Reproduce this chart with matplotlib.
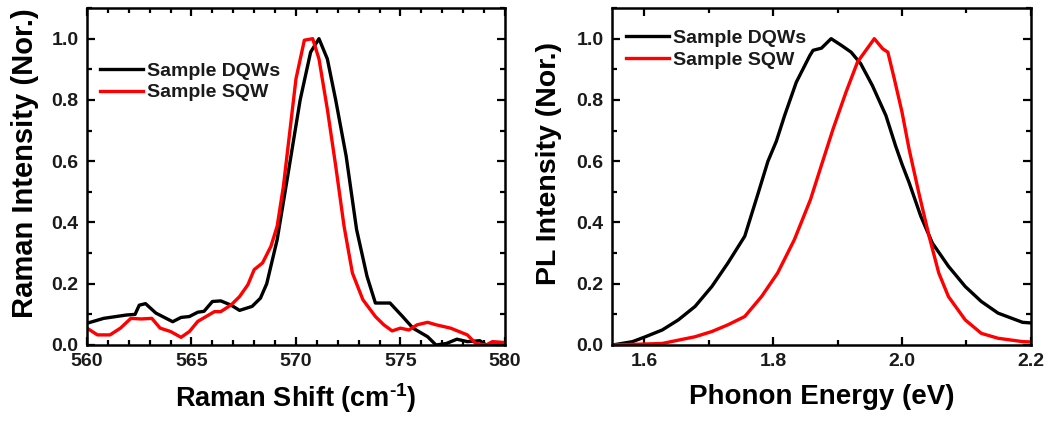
import matplotlib

matplotlib.use("Agg")
import matplotlib.pyplot as plt
from matplotlib.ticker import FormatStrFormatter, MultipleLocator

# Raman spectra (left panel)
raman_shift_dqw = [560.0, 560.8, 561.9, 562.3, 562.5, 562.8, 563.3, 564.1, 564.5, 564.9,
                   565.3, 565.6, 566.0, 566.4, 566.9, 567.3, 567.9, 568.3, 568.6, 569.1,
                   569.6, 570.2, 570.7, 571.1, 571.5, 571.9, 572.4, 572.9, 573.4, 573.8,
                   574.5, 575.1, 575.6, 576.3, 576.7, 577.2, 577.7, 578.2, 578.8, 579.1, 580.0]
raman_int_dqw = [0.071, 0.087, 0.098, 0.100, 0.130, 0.135, 0.104, 0.076, 0.090, 0.093,
                 0.107, 0.110, 0.142, 0.144, 0.130, 0.113, 0.126, 0.153, 0.200, 0.344,
                 0.550, 0.800, 0.956, 1.000, 0.934, 0.800, 0.617, 0.377, 0.224, 0.137,
                 0.137, 0.093, 0.055, 0.027, 0.000, 0.005, 0.019, 0.011, 0.014, 0.000, 0.000]

raman_shift_sqw = [560.0, 560.5, 561.1, 561.6, 562.1, 562.6, 563.1, 563.5, 564.0, 564.5,
                   564.9, 565.3, 565.7, 566.1, 566.4, 566.9, 567.3, 567.7, 568.0, 568.4,
                   568.8, 569.1, 569.4, 569.7, 570.0, 570.4, 570.8, 571.1, 571.5, 571.9,
                   572.3, 572.7, 573.2, 573.8, 574.2, 574.6, 575.0, 575.4, 575.8, 576.3,
                   576.7, 577.4, 577.8, 578.2, 578.6, 579.1, 579.4, 580.0]
raman_int_sqw = [0.055, 0.033, 0.033, 0.055, 0.087, 0.085, 0.087, 0.055, 0.044, 0.025,
                 0.044, 0.077, 0.093, 0.109, 0.109, 0.131, 0.158, 0.197, 0.246, 0.268,
                 0.322, 0.388, 0.519, 0.694, 0.869, 0.995, 1.000, 0.934, 0.770, 0.585,
                 0.388, 0.235, 0.148, 0.093, 0.066, 0.046, 0.055, 0.049, 0.066, 0.074,
                 0.066, 0.055, 0.044, 0.033, 0.005, 0.000, 0.011, 0.008]

# PL spectra (right panel)
pl_energy_dqw = [1.551, 1.582, 1.602, 1.628, 1.653, 1.679, 1.705, 1.730, 1.756, 1.776,
                 1.792, 1.805, 1.818, 1.836, 1.857, 1.862, 1.875, 1.890, 1.906, 1.921,
                 1.936, 1.954, 1.975, 1.990, 2.000, 2.011, 2.029, 2.047, 2.072, 2.098,
                 2.123, 2.149, 2.187, 2.200]
pl_int_dqw = [0.000, 0.011, 0.027, 0.049, 0.082, 0.126, 0.191, 0.268, 0.355, 0.490,
              0.600, 0.665, 0.750, 0.858, 0.945, 0.962, 0.969, 1.000, 0.978, 0.956,
              0.918, 0.847, 0.749, 0.650, 0.590, 0.530, 0.421, 0.333, 0.257, 0.191,
              0.142, 0.104, 0.074, 0.072]

pl_energy_sqw = [1.551, 1.628, 1.679, 1.705, 1.730, 1.756, 1.782, 1.807, 1.833, 1.858,
                 1.873, 1.893, 1.913, 1.931, 1.944, 1.957, 1.970, 1.978, 1.988, 2.000,
                 2.011, 2.026, 2.042, 2.057, 2.072, 2.098, 2.123, 2.149, 2.187, 2.200]
pl_int_sqw = [0.000, 0.005, 0.027, 0.044, 0.066, 0.093, 0.158, 0.235, 0.344, 0.475,
              0.574, 0.705, 0.825, 0.924, 0.962, 1.000, 0.967, 0.956, 0.869, 0.760,
              0.639, 0.497, 0.355, 0.235, 0.158, 0.082, 0.038, 0.022, 0.011, 0.010]

labels = ["Sample DQWs", "Sample SQW"]

plt.rcParams["font.family"] = ["Liberation Sans", "DejaVu Sans"]
plt.rcParams["font.weight"] = "bold"
plt.rcParams["axes.labelweight"] = "bold"
plt.rcParams["mathtext.fontset"] = "custom"
plt.rcParams["mathtext.rm"] = "Liberation Sans:bold"
plt.rcParams["mathtext.bf"] = "Liberation Sans:bold"
plt.rcParams["text.color"] = "#1a1a1a"
plt.rcParams["xtick.labelcolor"] = "#1a1a1a"
plt.rcParams["ytick.labelcolor"] = "#1a1a1a"

fig = plt.figure(figsize=(10.52, 4.23), dpi=100)
ax1 = fig.add_axes([0.0827, 0.1844, 0.3973, 0.7966])
ax2 = fig.add_axes([0.5817, 0.1844, 0.3983, 0.7966])


def style_axes(ax):
    for s in ax.spines.values():
        s.set_linewidth(1.8)
    ax.tick_params(which="both", direction="in", top=True, right=True,
                   width=1.6, labelsize=14, pad=6)
    ax.tick_params(which="major", length=6)
    ax.tick_params(which="minor", length=3.5)
    ax.set_ylim(0, 1.1)
    ax.yaxis.set_major_locator(MultipleLocator(0.2))
    ax.yaxis.set_minor_locator(MultipleLocator(0.1))
    ax.yaxis.set_major_formatter(FormatStrFormatter("%.1f"))


def add_legend(ax, x0, y0):
    ax.legend(loc="upper left", bbox_to_anchor=(x0, y0), frameon=False, fontsize=14,
              handlelength=2.2, handletextpad=0.2, labelspacing=0.22,
              borderaxespad=0, borderpad=0)


ax1.plot(raman_shift_dqw, raman_int_dqw, color="black", lw=2.4, label=labels[0])
ax1.plot(raman_shift_sqw, raman_int_sqw, color="#ff0000", lw=2.4, label=labels[1])
style_axes(ax1)
ax1.set_xlim(560, 580)
ax1.xaxis.set_major_locator(MultipleLocator(5))
ax1.xaxis.set_minor_locator(MultipleLocator(1))
ax1.set_xlabel("Raman Shift (cm$^{\\text{-1}}$)", fontsize=19.5, labelpad=8)
ax1.set_ylabel("Raman Intensity (Nor.)", fontsize=21)
ax1.yaxis.set_label_coords(-0.115, 0.54)
add_legend(ax1, 0.031, 0.84)

ax2.plot(pl_energy_dqw, pl_int_dqw, color="black", lw=2.4, label=labels[0])
ax2.plot(pl_energy_sqw, pl_int_sqw, color="#ff0000", lw=2.4, label=labels[1])
style_axes(ax2)
ax2.set_xlim(1.55, 2.2)
ax2.xaxis.set_major_locator(MultipleLocator(0.2))
ax2.xaxis.set_minor_locator(MultipleLocator(0.1))
ax2.xaxis.set_major_formatter(FormatStrFormatter("%.1f"))
ax2.set_xlabel("Phonon Energy (eV)", fontsize=20, labelpad=10)
ax2.set_ylabel("PL Intensity (Nor.)", fontsize=20.5)
ax2.yaxis.set_label_coords(-0.12, 0.54)
add_legend(ax2, 0.034, 0.937)

fig.savefig("out.png", dpi=100)
